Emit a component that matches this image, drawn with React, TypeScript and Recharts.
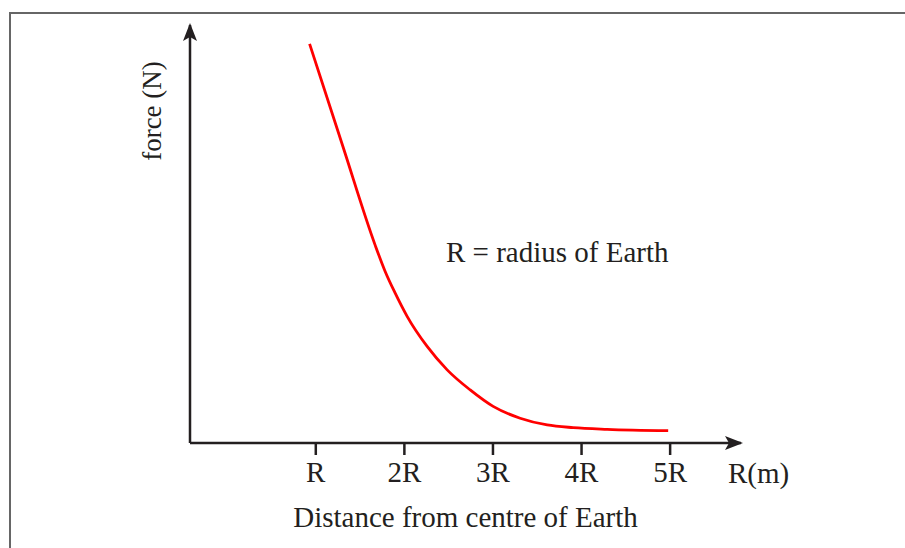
import * as React from 'react';
import { LineChart, Line, XAxis, YAxis, Label } from 'recharts';

// distance from centre of Earth, in multiples of R
const distance = [0.93, 1.308, 1.669, 1.782, 1.895, 2.031, 2.257, 2.483, 2.743, 3.002, 3.307, 3.612, 3.905, 4.289, 4.978];
// force, arbitrary units
const force = [9.55, 7.08, 4.74, 4.11, 3.59, 3.03, 2.31, 1.75, 1.27, 0.876, 0.593, 0.431, 0.368, 0.328, 0.294];

const tickValues = [1, 2, 3, 4, 5];
const tickNames = ['R', '2R', '3R', '4R', '5R'];

const ink = '#231f20';
const fontFamily = '"Liberation Serif", "Times New Roman", serif';

const data = distance.map((d, i) => ({ distance: d, force: force[i] }));

const App = () => {
  return (
    <div
      style={{
        position: 'absolute',
        left: 0,
        top: 0,
        width: 905,
        height: 548,
        overflow: 'hidden',
        background: '#fff',
      }}
    >
      <div
        style={{
          position: 'absolute',
          left: 9,
          top: 12,
          width: 1000,
          height: 1000,
          borderTop: '2px solid #666',
          borderLeft: '2px solid #666',
        }}
      />
      <div style={{ position: 'absolute', left: 0, top: 0 }}>
        <LineChart
          width={905}
          height={548}
          data={data}
          margin={{ top: 25, right: 164, left: 0, bottom: 0 }}
          style={{ fontFamily }}
        >
          <defs>
            <marker
              id="arrowHead"
              markerUnits="userSpaceOnUse"
              markerWidth={20}
              markerHeight={14}
              refX={16}
              refY={7}
              orient="auto-start-reverse"
            >
              <path d="M0,0 L18,7 L0,14 L4,7 Z" fill={ink} />
            </marker>
          </defs>
          <XAxis
            dataKey="distance"
            type="number"
            domain={[-0.42, 5.8]}
            allowDataOverflow
            ticks={tickValues}
            tickFormatter={(v: number) => tickNames[tickValues.indexOf(v)] ?? ''}
            height={105}
            tickSize={12}
            tickMargin={6}
            tick={{ fill: ink, fontSize: 29, fontFamily }}
            tickLine={{ stroke: ink, strokeWidth: 2.5 }}
            axisLine={{ stroke: ink, strokeWidth: 2.5, markerEnd: 'url(#arrowHead)' }}
          >
            <Label
              value="Distance from centre of Earth"
              position="insideBottom"
              offset={21}
              fill={ink}
              fontSize={29}
              fontFamily={fontFamily}
            />
          </XAxis>
          <YAxis
            type="number"
            domain={[0, 10]}
            allowDataOverflow
            width={190}
            tick={false}
            tickLine={false}
            axisLine={{ stroke: ink, strokeWidth: 2.5, markerStart: 'url(#arrowHead)' }}
          />
          <Line
            dataKey="force"
            type="monotone"
            stroke="#ff0000"
            strokeWidth={2.8}
            dot={false}
            activeDot={false}
            isAnimationActive={false}
          />
          <text
            x={152}
            y={111}
            transform="rotate(-90, 152, 111)"
            textAnchor="middle"
            dominantBaseline="central"
            fill={ink}
            fontSize={27}
            fontFamily={fontFamily}
          >
            force (N)
          </text>
          <text x={446} y={262} fill={ink} fontSize={29} fontFamily={fontFamily}>
            R = radius of Earth
          </text>
          <text x={728} y={483} fill={ink} fontSize={29} fontFamily={fontFamily}>
            R(m)
          </text>
        </LineChart>
      </div>
    </div>
  );
};

export default App;
